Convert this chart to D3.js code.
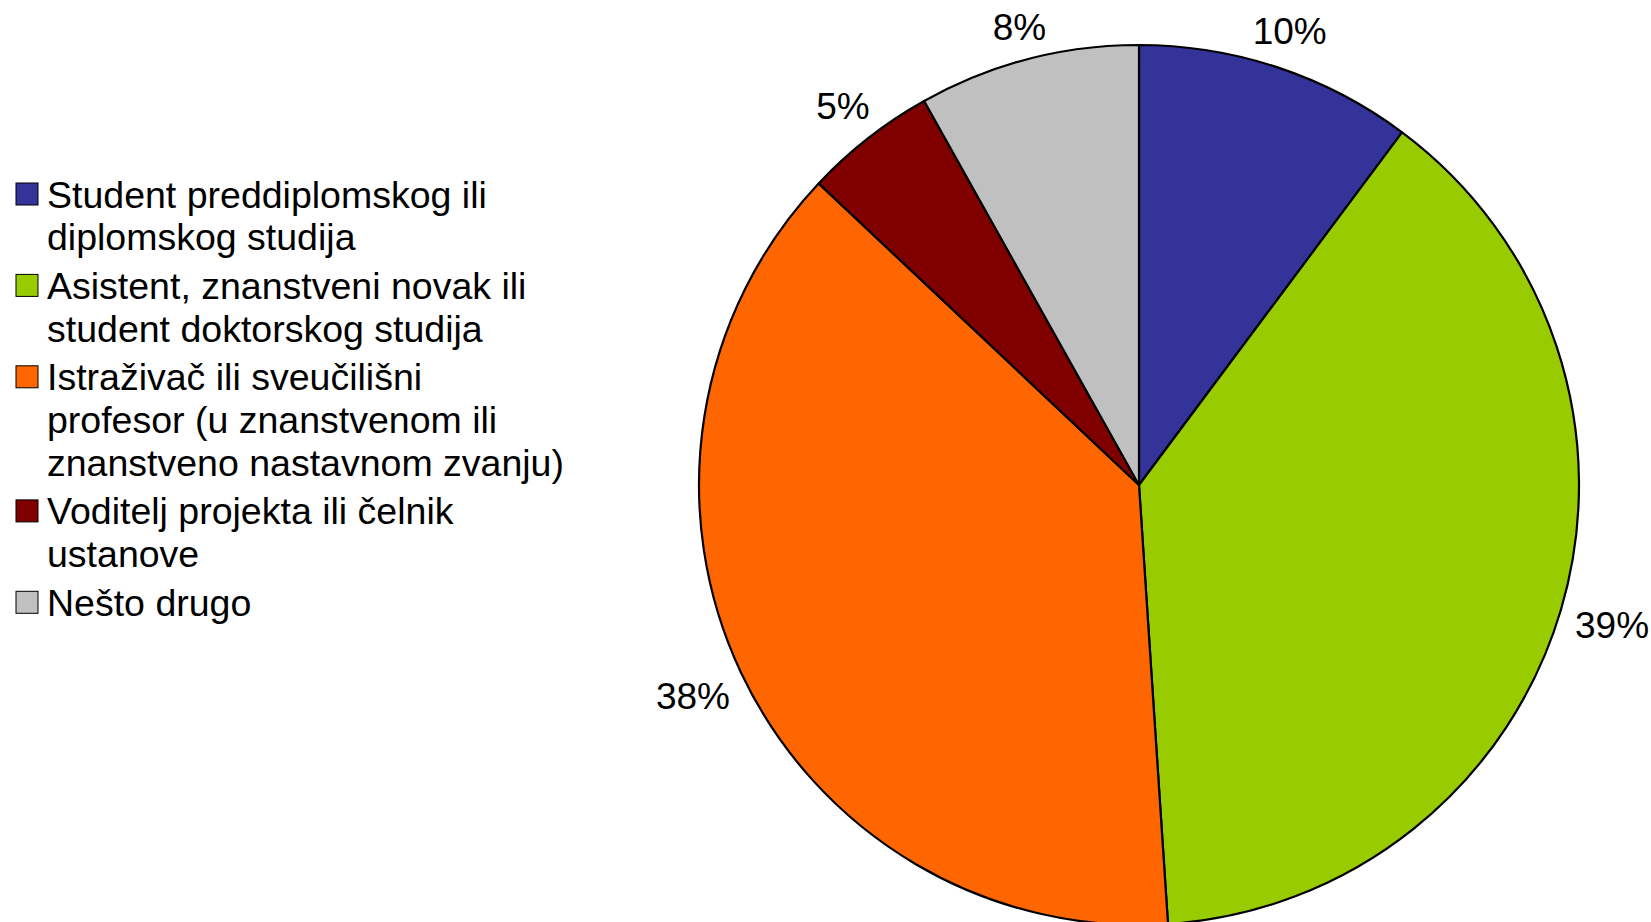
<!DOCTYPE html>
<html>
<head>
<meta charset="utf-8">
<script src="https://cdn.jsdelivr.net/npm/d3@7"></script>
<style>
  html, body { margin: 0; padding: 0; background: #fff; }
  svg { display: block; }
  text { font-family: "Liberation Sans", Arial, sans-serif; fill: #000; }
</style>
</head>
<body>
<svg id="chart" width="1651" height="922"></svg>
<script>
// ---- data ----
const categories = [
  ["Student preddiplomskog ili", "diplomskog studija"],
  ["Asistent, znanstveni novak ili", "student doktorskog studija"],
  ["Istraživač ili sveučilišni", "profesor (u znanstvenom ili", "znanstveno nastavnom zvanju)"],
  ["Voditelj projekta ili čelnik", "ustanove"],
  ["Nešto drugo"]
];
const values = [10.2, 38.75, 38.07, 4.86, 8.12];
const colors = ["#333399", "#99CC00", "#FF6600", "#800000", "#C0C0C0"];

// ---- layout ----
const W = 1651, H = 922;
const cx = 1139, cy = 485, R = 440;
const labelFont = 37, legendFont = 37.5;

const svg = d3.select("#chart");

const data = values.map((v, i) => ({ name: categories[i].join(" "), value: v, color: colors[i] }));
const pie = d3.pie().sort(null).value(d => d.value).startAngle(0).endAngle(2 * Math.PI);
const arc = d3.arc().innerRadius(0).outerRadius(R);
const arcs = pie(data);

const g = svg.append("g").attr("transform", `translate(${cx},${cy})`);
g.selectAll("path.slice")
  .data(arcs)
  .join("path")
  .attr("class", "slice")
  .attr("d", arc)
  .attr("fill", d => d.data.color)
  .attr("stroke", "#000")
  .attr("stroke-width", 2.2)
  .attr("stroke-linejoin", "round");

// percentage labels outside the pie
const fmt = v => Math.round(v) + "%";
const labels = g.selectAll("text.pct")
  .data(arcs)
  .join("text")
  .attr("class", "pct")
  .attr("font-size", labelFont)
  .attr("text-anchor", "middle")
  .text(d => fmt(d.data.value));

labels.each(function(d) {
  const w = this.getComputedTextLength();
  const a = (d.startAngle + d.endAngle) / 2;
  const hh = labelFont * 0.36;
  const pad = 14;
  const dist = R + pad + (w / 2) * Math.abs(Math.sin(a)) + hh * Math.abs(Math.cos(a));
  const x = dist * Math.sin(a);
  const y = -dist * Math.cos(a);
  d3.select(this).attr("x", x).attr("y", y + hh);
});

// ---- legend ----
const legX = 16, legTop = 183, sw = 22, lineH = 42.7, entryGap = 6, textX = 47;
const legend = svg.append("g");
let yCursor = legTop + sw / 2; // center of first line
data.forEach((d, i) => {
  const lines = categories[i];
  legend.append("rect")
    .attr("x", legX).attr("y", yCursor - sw / 2)
    .attr("width", sw).attr("height", sw)
    .attr("fill", d.color)
    .attr("stroke", "#000").attr("stroke-width", 1);
  const t = legend.append("text")
    .attr("font-size", legendFont);
  lines.forEach((ln, j) => {
    t.append("tspan")
      .attr("x", textX)
      .attr("y", yCursor + j * lineH + legendFont * 0.36)
      .text(ln);
  });
  yCursor += lines.length * lineH + entryGap;
});
</script>
</body>
</html>
